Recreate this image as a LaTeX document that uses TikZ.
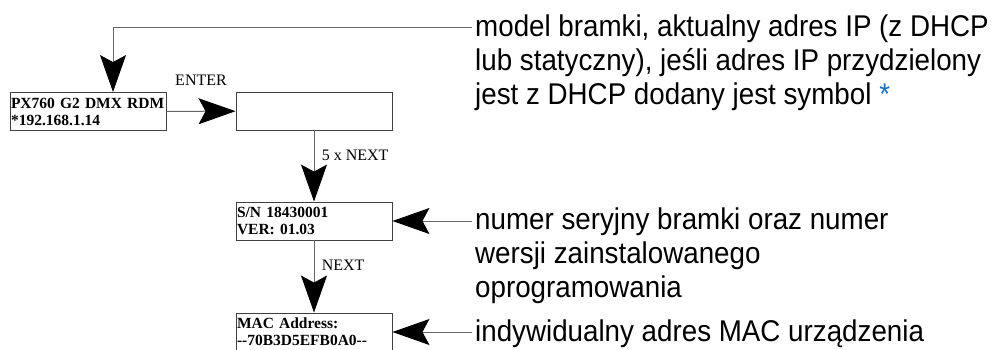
\documentclass[tikz,border=0pt]{standalone}
\usepackage{fontspec}
\setmainfont{Liberation Serif}
\newfontfamily\notefont[FakeStretch=0.925]{Liberation Sans}
\usetikzlibrary{arrows.meta}
\definecolor{starblue}{RGB}{20,110,190}

\begin{document}
\begin{tikzpicture}[x=1pt, y=-1pt,
  screen/.style={draw=black!75, line width=0.9pt, minimum width=156pt,
    minimum height=38pt, text width=154pt, inner sep=1pt, align=left,
    font=\fontsize{15.5}{17}\selectfont\bfseries},
  flow/.style={draw=black!60, line width=1pt,
    -{Stealth[length=37pt, width=26pt, inset=7pt, color=black]}},
  key/.style={font=\fontsize{16}{19}\selectfont},
  note/.style={inner sep=0pt, align=left,
    font=\notefont\fontsize{30}{34}\selectfont}]
  \useasboundingbox (0,0) rectangle (995,349);

  \node[screen] (model) at (88,111.5) {PX760 G2 DMX RDM\\{}*192.168.1.14};
  \node[screen] (enter) at (314,111) {};
  \node[screen] (serial) at (314,221) {S/N 18430001\\VER: 01.03};
  \node[screen] (mac) at (314,332) {MAC Address:\\-{}-70B3D5EFB0A0-{}-};

  \draw[flow] (model) -- node[key, above=22pt] {ENTER} (enter);
  \draw[flow] (enter) -- node[key, right=4pt, yshift=11pt] {5 x NEXT} (serial);
  \draw[flow] (serial) -- node[key, right=4pt, yshift=11.5pt] {NEXT} (mac);

  \coordinate (modeltip) at (472,27);
  \coordinate (serialtip) at (472,221);
  \coordinate (mactip) at (472,332);

  \draw[flow] (modeltip) -| ([xshift=25pt]model.north);
  \draw[flow] (serialtip) -- (serial.east);
  \draw[flow] (mactip) -- (mac.east);

  \node[note, anchor=north west] (modelnote) at (475,14.2)
    {model bramki, aktualny adres IP (z DHCP\\
    lub statyczny), jeśli adres IP przydzielony\\
    jest z DHCP dodany jest symbol \textcolor{starblue}{*}};
  \node[note, anchor=north west] (serialnote) at (475,207.5)
    {numer seryjny bramki oraz numer\\
    wersji zainstalowanego\\oprogramowania};
  \node[note, anchor=base west] (macnote) at (475,341)
    {indywidualny adres MAC urządzenia};
\end{tikzpicture}
\end{document}
